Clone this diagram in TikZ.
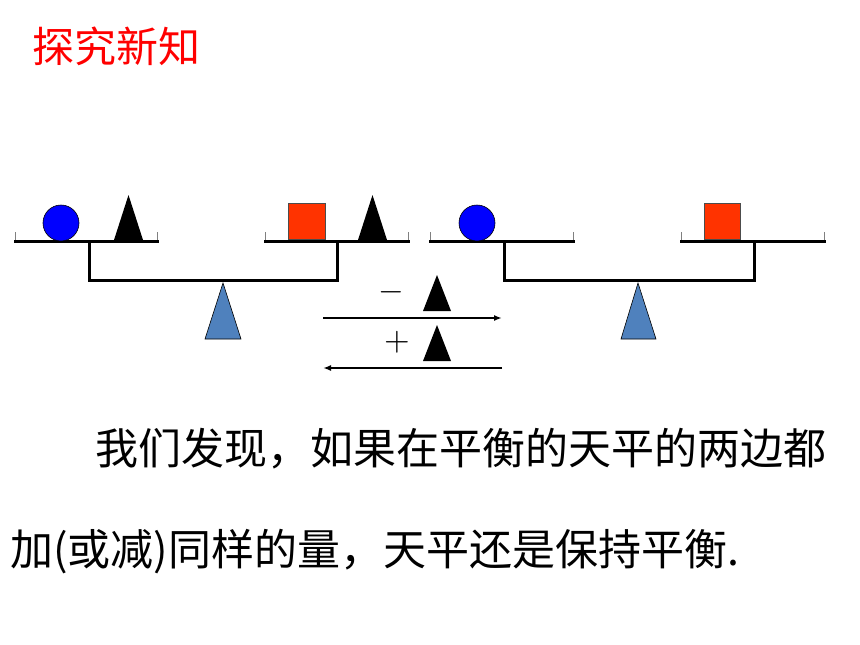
\documentclass[tikz,border=0pt]{standalone}
\usepackage{graphicx}
\usepackage{fontspec}
\newfontfamily\cjk{Noto Sans CJK SC}
\usetikzlibrary{arrows.meta}
\definecolor{wred}{HTML}{FF3300}
\definecolor{fblue}{HTML}{4F81BD}
\definecolor{ttlred}{HTML}{FF0000}
\tikzset{
  beam/.style={line width=3pt, line cap=rect},
  lip/.style={line width=0.8pt, gray},
  ball/.style={draw=black, line width=0.6pt, fill=blue},
  block/.style={draw=black!70, line width=0.6pt, fill=wred},
  wt/.style={fill=black},
  fulcrum/.style={draw=black, line width=0.6pt, fill=fblue},
  flow/.style={line width=2.2pt, -{Latex[length=8pt,width=6pt]}},
  sign/.style={inner sep=0pt},
  body/.style={font=\cjk\fontsize{43}{43}\selectfont, inner sep=0pt, anchor=west},
}
\begin{document}
\begin{tikzpicture}[x=1pt,y=-1pt]
\useasboundingbox (0,0) rectangle (860,645);

% title
\node[font=\cjk\fontsize{42}{42}\selectfont, text=ttlred, inner sep=0pt, anchor=west] (title) at (32,46) {探究新知};

% ---------- left balance ----------
\draw[lip] (15,232) -- (15,241) (157,232) -- (157,241);
\draw[lip] (265,232) -- (265,241) (408,232) -- (408,241);
\draw[beam] (15,241) -- (157,241);
\draw[beam] (265,241) -- (408,241);
\draw[beam] (89,241) -- (89,280) -- (337,280) -- (337,241);
\draw[ball] (61,223) circle (18);
\fill[wt] (114,240) -- (128.5,195) -- (143,240) -- cycle;
\draw[block] (288,203) rectangle (325,239);
\fill[wt] (358,240) -- (372.5,195) -- (387,240) -- cycle;
\draw[fulcrum] (205,339) -- (223,283) -- (241,339) -- cycle;

% ---------- right balance ----------
\draw[lip] (430,232) -- (430,241) (573,232) -- (573,241);
\draw[lip] (681,232) -- (681,241) (824,232) -- (824,241);
\draw[beam] (430,241) -- (573,241);
\draw[beam] (681,241) -- (824,241);
\draw[beam] (504,241) -- (504,280) -- (754,280) -- (754,241);
\draw[ball] (477,223) circle (18);
\draw[block] (704,203) rectangle (740,239);
\draw[fulcrum] (621,339) -- (638,283) -- (656,339) -- cycle;

% ---------- middle operations ----------
\node[sign] (minus) at (391,292) {\scalebox{3.3}{$-$}};
\fill[wt] (423,311) -- (437,275) -- (451,311) -- cycle;
\coordinate (a1s) at (323,318);
\coordinate (a1e) at (502,318);
\draw[flow] (a1s) -- (a1e);
\node[sign] (plus) at (397,342) {\scalebox{3.3}{$+$}};
\fill[wt] (423,361) -- (437,325) -- (451,361) -- cycle;
\coordinate (a2s) at (502,368);
\coordinate (a2e) at (323,368);
\draw[flow] (a2s) -- (a2e);

% ---------- text ----------
\node[body] (line1) at (95,449) {我们发现，如果在平衡的天平的两边都};
\node[body] (line2) at (10,552) {加(或减)同样的量，天平还是保持平衡.};
\end{tikzpicture}
\end{document}
